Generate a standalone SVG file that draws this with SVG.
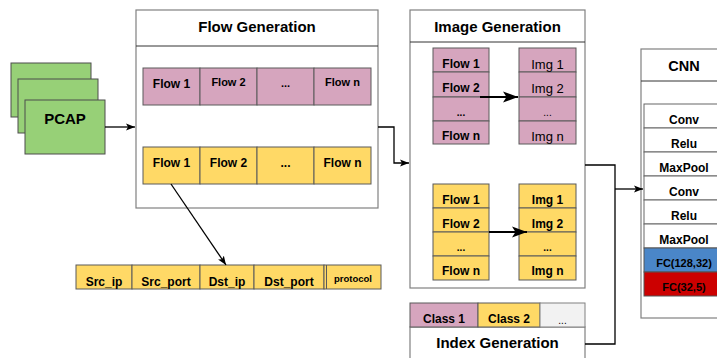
<svg xmlns="http://www.w3.org/2000/svg" width="717" height="358" viewBox="0 0 717 358">
<defs>
<style>
text{font-family:"Liberation Sans",Arial,sans-serif;text-anchor:middle;fill:#000}
.b{font-weight:bold}
.t{font-weight:bold;font-size:15px}
.c12{font-size:12px}
.box{fill:#fff;stroke:#808080;stroke-width:1.2}
.pk{fill:#d6a5be;stroke:#5a5a5a;stroke-width:1}
.yl{fill:#ffd966;stroke:#5a5a5a;stroke-width:1}
.gr{fill:#97d077;stroke:#4d4d4d;stroke-width:1}
.wc{fill:#fff;stroke:#666;stroke-width:1}
.ln{fill:none;stroke:#000;stroke-width:1.3}
.lt{fill:none;stroke:#000;stroke-width:2}
</style>
<marker id="a" markerUnits="userSpaceOnUse" markerWidth="9" markerHeight="8" refX="9" refY="4" orient="auto">
<path d="M0,0.5 L9,4 L0,7.5 L2,4 z" fill="#000"/>
</marker>
<marker id="ab" markerUnits="userSpaceOnUse" markerWidth="15" markerHeight="12" refX="15" refY="6" orient="auto">
<path d="M0,0.5 L15,6 L0,11.5 L3.5,6 z" fill="#000"/>
</marker>
</defs>

<g id="pcap">
<rect class="gr" x="11" y="63" width="80" height="54"/>
<rect class="gr" x="18" y="79" width="80" height="54"/>
<rect class="gr" x="25" y="100" width="80" height="54"/>
<text class="t" x="65" y="124">PCAP</text>
</g>

<g id="flow-generation">
<rect class="box" x="136" y="10" width="242" height="198"/>
<line x1="136" y1="46" x2="378" y2="46" stroke="#333" stroke-width="1"/>
<text class="t" x="257" y="32">Flow Generation</text>
<g font-size="12">
<rect class="pk" x="143" y="68" width="57" height="37"/>
<rect class="pk" x="200" y="68" width="57" height="37"/>
<rect class="pk" x="257" y="68" width="57" height="37"/>
<rect class="pk" x="314" y="68" width="57" height="37"/>
<text class="b c12" x="171.5" y="88">Flow 1</text>
<text class="b" font-size="11" x="228.5" y="86">Flow 2</text>
<text class="b" font-size="11" x="285.5" y="87">...</text>
<text class="b" font-size="11" x="342.5" y="86">Flow n</text>
<rect class="yl" x="143" y="147" width="57" height="37"/>
<rect class="yl" x="200" y="147" width="57" height="37"/>
<rect class="yl" x="257" y="147" width="57" height="37"/>
<rect class="yl" x="314" y="147" width="57" height="37"/>
<text class="b c12" x="171.5" y="167">Flow 1</text>
<text class="b c12" x="228.5" y="167">Flow 2</text>
<text class="b c12" x="285.5" y="167">...</text>
<text class="b c12" x="342.5" y="167">Flow n</text>
</g>
</g>

<g id="flow-fields">
<rect class="yl" x="76" y="265" width="56" height="24"/>
<rect class="yl" x="132" y="265" width="68" height="24"/>
<rect class="yl" x="200" y="265" width="54" height="24"/>
<rect class="yl" x="254" y="265" width="70" height="24"/>
<rect class="yl" x="324" y="265" width="57" height="24"/>
<line x1="326.5" y1="265" x2="326.5" y2="289" stroke="#5a5a5a" stroke-width="1"/>
<text class="b c12" x="104" y="286">Src_ip</text>
<text class="b c12" x="166" y="286">Src_port</text>
<text class="b c12" x="227" y="286">Dst_ip</text>
<text class="b c12" x="289" y="286">Dst_port</text>
<text class="b" font-size="9.5" x="353" y="282">protocol</text>
</g>

<g id="image-generation">
<rect class="box" x="410" y="10" width="175" height="278"/>
<line x1="410" y1="42" x2="585" y2="42" stroke="#333" stroke-width="1"/>
<text class="t" x="497.5" y="32">Image Generation</text>
<rect class="pk" x="433" y="48" width="56" height="24"/>
<rect class="pk" x="433" y="72" width="56" height="25"/>
<rect class="pk" x="433" y="97" width="56" height="24"/>
<rect class="pk" x="433" y="121" width="56" height="23"/>
<text class="b c12" x="461" y="68">Flow 1</text>
<text class="b c12" x="461" y="92">Flow 2</text>
<text class="b" font-size="10" x="461" y="116">...</text>
<text class="b c12" x="461" y="140">Flow n</text>
<rect class="pk" x="519" y="48" width="57" height="24"/>
<rect class="pk" x="519" y="72" width="57" height="25"/>
<rect class="pk" x="519" y="97" width="57" height="24"/>
<rect class="pk" x="519" y="121" width="57" height="23"/>
<text font-size="13" x="547.5" y="69">Img 1</text>
<text font-size="13" x="547.5" y="93">Img 2</text>
<text font-size="10" x="547.5" y="116">...</text>
<text font-size="13" x="547.5" y="141">Img n</text>
<rect class="yl" x="433" y="184" width="56" height="24"/>
<rect class="yl" x="433" y="208" width="56" height="24"/>
<rect class="yl" x="433" y="232" width="56" height="24"/>
<rect class="yl" x="433" y="256" width="56" height="24"/>
<text class="b c12" x="461" y="204">Flow 1</text>
<text class="b c12" x="461" y="228">Flow 2</text>
<text class="b" font-size="10" x="461" y="251">...</text>
<text class="b c12" x="461" y="275">Flow n</text>
<rect class="yl" x="519" y="184" width="57" height="24"/>
<rect class="yl" x="519" y="208" width="57" height="24"/>
<rect class="yl" x="519" y="232" width="57" height="24"/>
<rect class="yl" x="519" y="256" width="57" height="24"/>
<text class="b c12" x="547.5" y="204">Img 1</text>
<text class="b c12" x="547.5" y="228">Img 2</text>
<text class="b" font-size="10" x="547.5" y="251">...</text>
<text class="b c12" x="547.5" y="275">Img n</text>
<line class="lt" x1="480" y1="97" x2="518" y2="97" marker-end="url(#ab)"/>
<line class="lt" x1="489" y1="232" x2="527" y2="232" marker-end="url(#ab)"/>
</g>

<g id="index-generation">
<rect class="box" x="410" y="327" width="175" height="50"/>
<rect class="pk" x="410" y="303" width="68" height="24"/>
<rect class="yl" x="478" y="303" width="62" height="24"/>
<rect x="540" y="303" width="45" height="24" fill="#f2f2f2" stroke="#808080" stroke-width="1"/>
<text class="b c12" x="444" y="323">Class 1</text>
<text class="b c12" x="509" y="323">Class 2</text>
<text font-size="10" x="562.5" y="324" fill="#333">...</text>
<text class="t" x="497.5" y="348">Index Generation</text>
</g>

<g id="cnn">
<rect class="box" x="641" y="49" width="90" height="269"/>
<line x1="641" y1="81" x2="731" y2="81" stroke="#333" stroke-width="1"/>
<text class="b" font-size="14.5" x="684" y="71">CNN</text>
<rect class="wc" x="644" y="104" width="85" height="24"/>
<rect class="wc" x="644" y="128" width="85" height="24"/>
<rect class="wc" x="644" y="152" width="85" height="24"/>
<rect class="wc" x="644" y="176" width="85" height="24"/>
<rect class="wc" x="644" y="200" width="85" height="24"/>
<rect class="wc" x="644" y="224" width="85" height="24"/>
<rect x="644" y="248" width="85" height="24" fill="#4a86c8" stroke="#555" stroke-width="1"/>
<rect x="644" y="272" width="85" height="24" fill="#cc0000" stroke="#555" stroke-width="1"/>
<text class="b c12" x="684" y="124">Conv</text>
<text class="b c12" x="684" y="148">Relu</text>
<text class="b c12" x="684" y="172">MaxPool</text>
<text class="b c12" x="684" y="196">Conv</text>
<text class="b c12" x="684" y="220">Relu</text>
<text class="b c12" x="684" y="244">MaxPool</text>
<text class="b" font-size="11" x="684" y="267">FC(128,32)</text>
<text class="b" font-size="11" x="684" y="291">FC(32,5)</text>
</g>

<g id="connectors">
<line class="ln" x1="105" y1="127" x2="135" y2="127" marker-end="url(#a)"/>
<polyline class="ln" points="378,127 394,127 394,163 409,163" marker-end="url(#a)"/>
<line class="ln" x1="171" y1="184" x2="226" y2="265" stroke-width="1" marker-end="url(#a)"/>
<polyline class="ln" points="585,165 615,165 615,344 585,344"/>
<line class="ln" x1="615" y1="189" x2="643" y2="189" marker-end="url(#a)"/>
</g>
</svg>
